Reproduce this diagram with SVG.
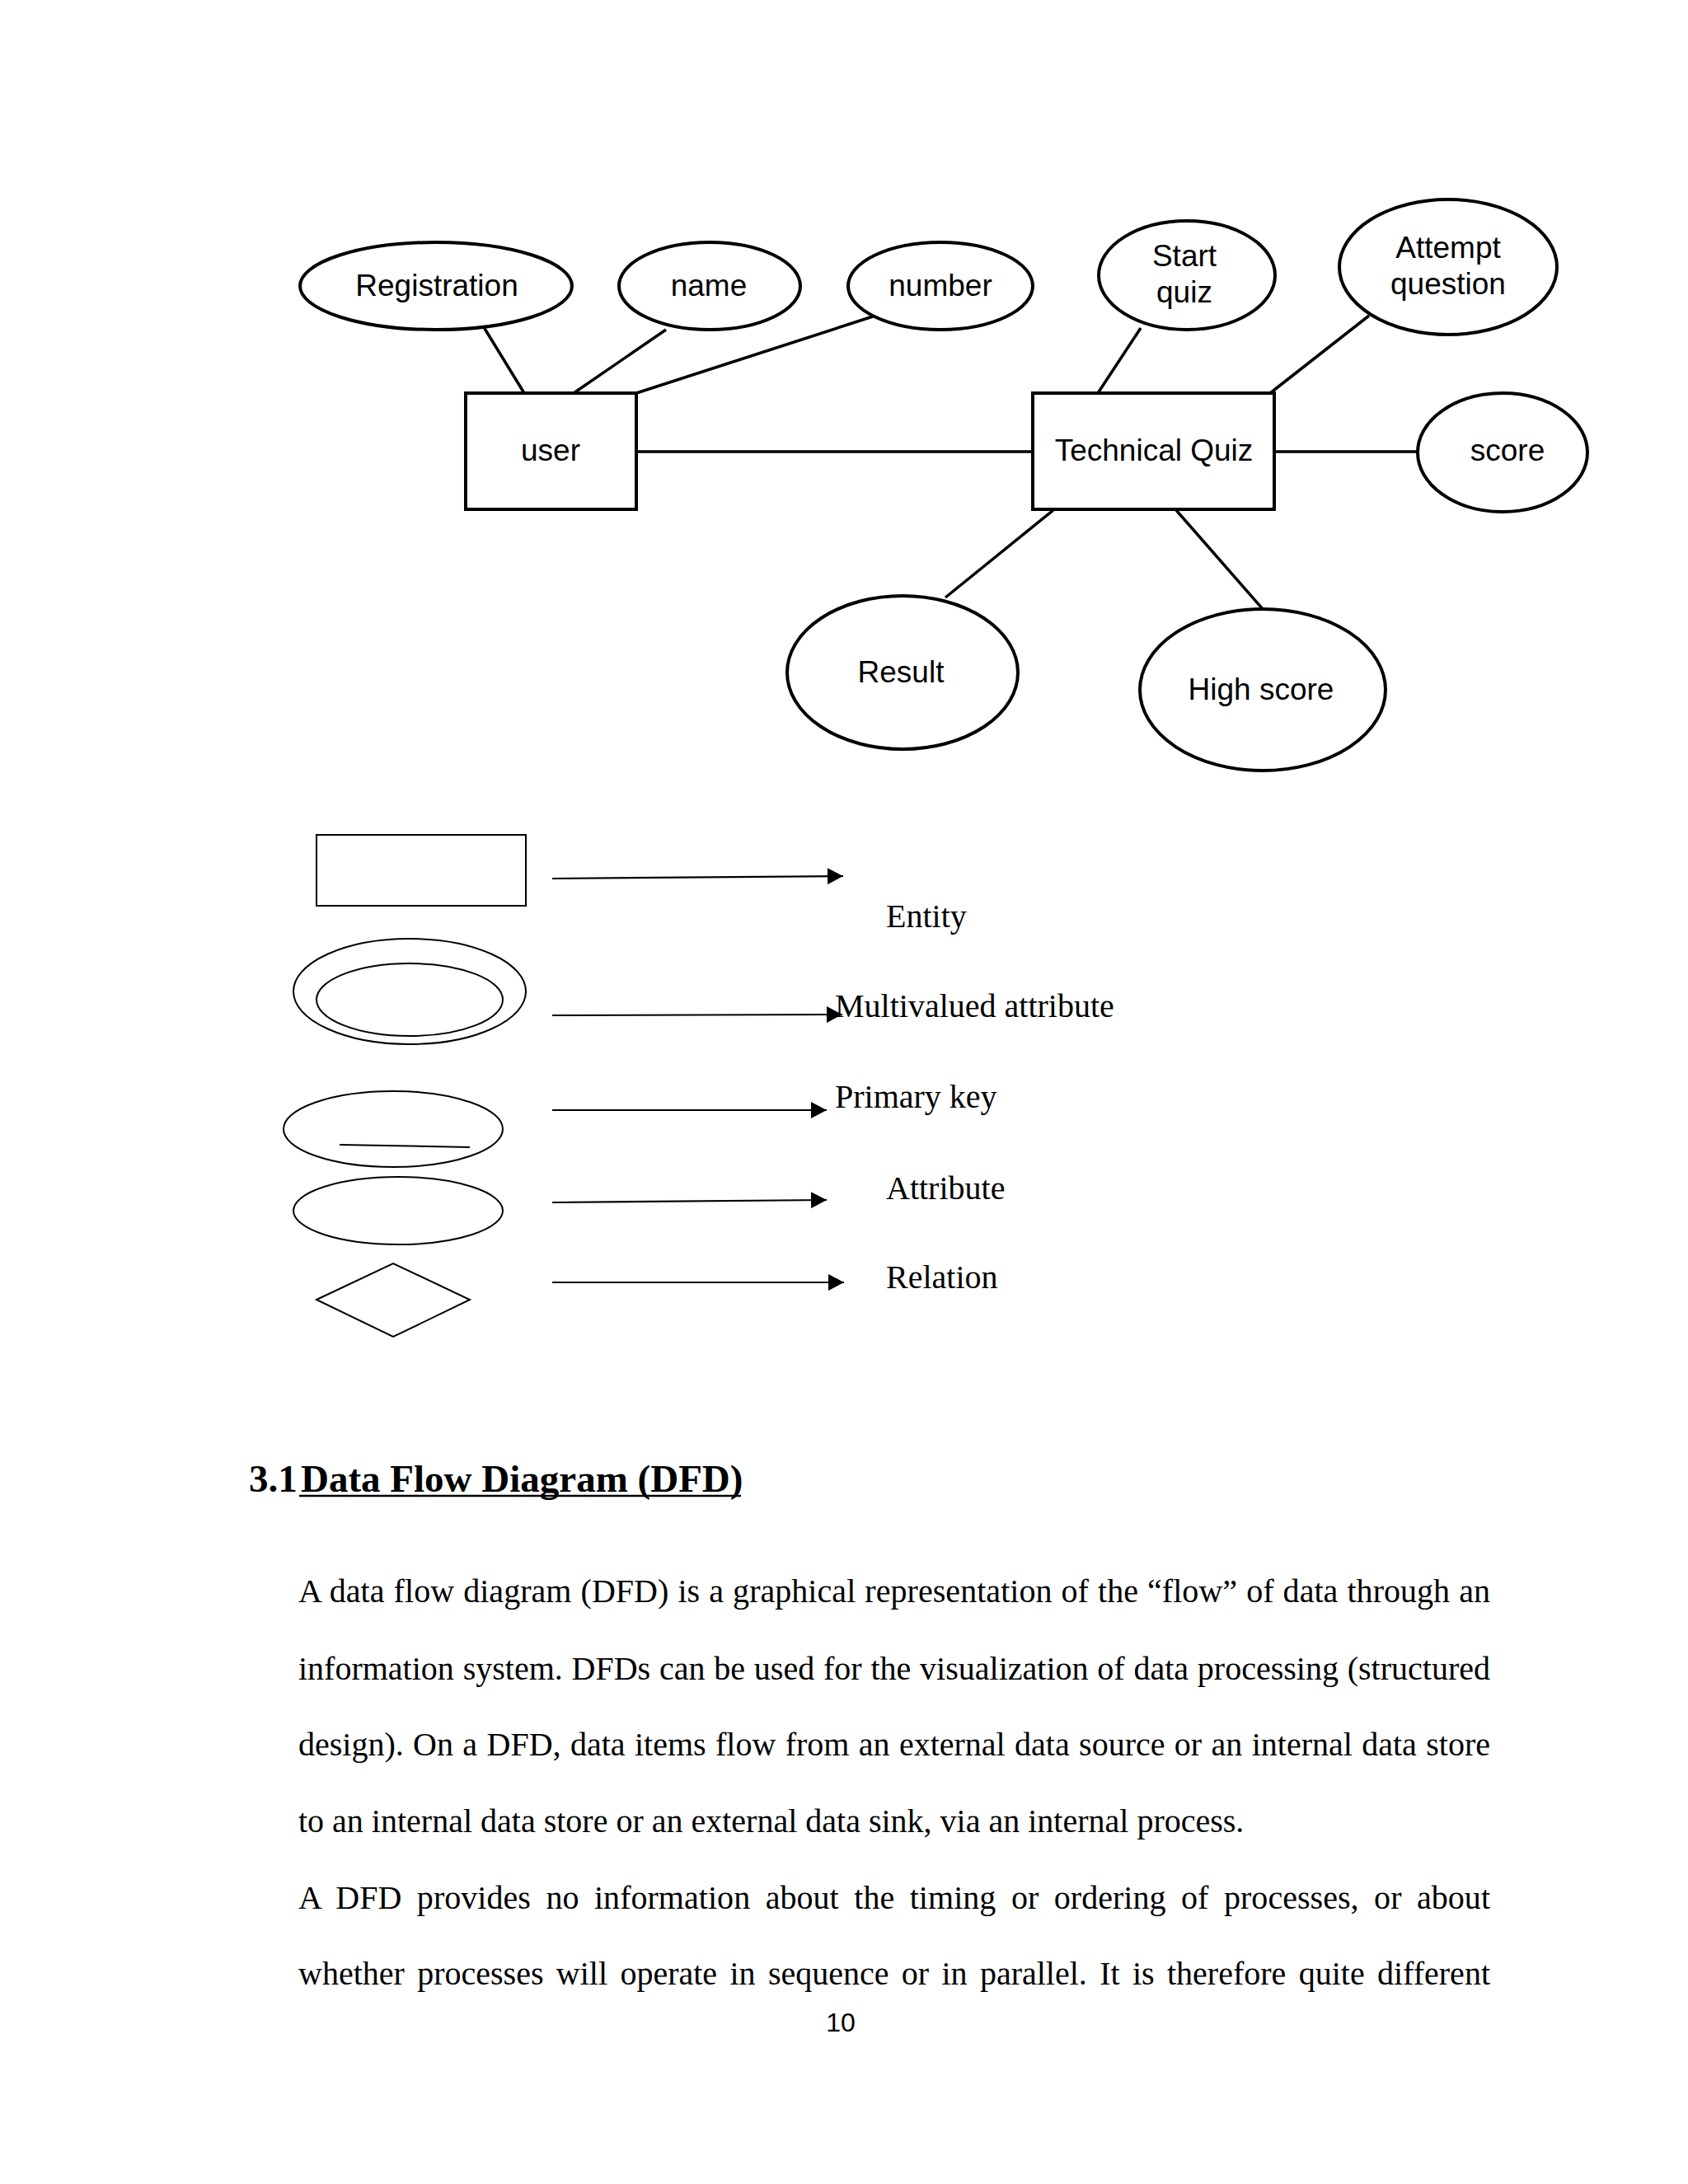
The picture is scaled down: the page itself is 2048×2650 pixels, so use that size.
<svg xmlns="http://www.w3.org/2000/svg" width="2048" height="2650" viewBox="0 0 2048 2650">
<style>
.er{fill:#fff;stroke:#000;stroke-width:4}
.erl{stroke:#000;stroke-width:3.5;fill:none}
.lg{fill:#fff;stroke:#000;stroke-width:2}
.arr{stroke:#000;stroke-width:2.2;fill:none;marker-end:url(#ah)}
.t{font-family:"Liberation Sans",Arial,sans-serif;font-size:37px;fill:#000;text-anchor:middle}
.s{font-family:"Liberation Serif","Times New Roman",serif;font-size:40px;fill:#000}
.h{font-family:"Liberation Serif","Times New Roman",serif;font-size:47px;font-weight:bold;fill:#000}
</style>
<defs>
<marker id="ah" markerUnits="userSpaceOnUse" markerWidth="20" markerHeight="20" viewBox="0 0 20 20" refX="19" refY="10" orient="auto">
<path d="M0,0 L19,10 L0,20 z" fill="#000"/>
</marker>
</defs>
<rect width="2048" height="2650" fill="#fff"/>
<g id="connectors">
<line class="erl" x1="587" y1="397" x2="636" y2="477"/>
<line class="erl" x1="808" y1="400" x2="696" y2="477"/>
<line class="erl" x1="1059" y1="384" x2="772" y2="477"/>
<line class="erl" x1="772" y1="548" x2="1253" y2="548"/>
<line class="erl" x1="1384" y1="398" x2="1332" y2="477"/>
<line class="erl" x1="1661" y1="383" x2="1541" y2="477"/>
<line class="erl" x1="1546" y1="548" x2="1719" y2="548"/>
<line class="erl" x1="1278" y1="619" x2="1147" y2="725"/>
<line class="erl" x1="1427" y1="619" x2="1532" y2="739"/>
</g>
<g id="registration"><ellipse class="er" cx="529" cy="347" rx="165" ry="53"/><text class="t" x="530" y="359">Registration</text></g>
<g id="name"><ellipse class="er" cx="861" cy="347" rx="110" ry="53"/><text class="t" x="860" y="359">name</text></g>
<g id="number"><ellipse class="er" cx="1141" cy="347" rx="112" ry="53"/><text class="t" x="1141" y="359">number</text></g>
<g id="user"><rect class="er" x="565" y="477" width="207" height="141"/><text class="t" x="668" y="559">user</text></g>
<g id="technical-quiz"><rect class="er" x="1253" y="477" width="293" height="141"/><text class="t" x="1400" y="559">Technical Quiz</text></g>
<g id="start-quiz"><ellipse class="er" cx="1440" cy="334" rx="107" ry="66"/><text class="t" x="1437" y="323">Start</text><text class="t" x="1437" y="367">quiz</text></g>
<g id="attempt-question"><ellipse class="er" cx="1757" cy="324" rx="132" ry="82"/><text class="t" x="1757" y="313">Attempt</text><text class="t" x="1757" y="357">question</text></g>
<g id="score"><ellipse class="er" cx="1823" cy="549" rx="103" ry="72"/><text class="t" x="1829" y="559">score</text></g>
<g id="result"><ellipse class="er" cx="1095" cy="816" rx="140" ry="93"/><text class="t" x="1093" y="828">Result</text></g>
<g id="high-score"><ellipse class="er" cx="1532" cy="837" rx="149" ry="98"/><text class="t" x="1530" y="849">High score</text></g>
<g id="legend-entity"><rect class="lg" x="384" y="1013" width="254" height="86"/></g>
<g id="legend-multivalued"><ellipse class="lg" cx="497" cy="1203" rx="141" ry="64"/><ellipse class="lg" cx="497" cy="1213" rx="113" ry="44"/></g>
<g id="legend-primary-key"><ellipse class="lg" cx="477" cy="1370" rx="133" ry="46"/><line x1="412" y1="1389" x2="570" y2="1392" stroke="#000" stroke-width="2"/></g>
<g id="legend-attribute"><ellipse class="lg" cx="483" cy="1469" rx="127" ry="41"/></g>
<g id="legend-relation"><polygon class="lg" points="384,1577 477,1533 570,1577 477,1622"/></g>
<g id="legend-arrows">
<line class="arr" x1="670" y1="1066" x2="1023" y2="1063"/>
<line class="arr" x1="670" y1="1232" x2="1022" y2="1231"/>
<line class="arr" x1="670" y1="1347" x2="1003" y2="1347"/>
<line class="arr" x1="670" y1="1459" x2="1003" y2="1456"/>
<line class="arr" x1="670" y1="1556" x2="1024" y2="1556"/>
</g>
<g id="legend-labels">
<text class="s" x="1075" y="1125">Entity</text>
<text class="s" x="1013" y="1234">Multivalued attribute</text>
<text class="s" x="1013" y="1344">Primary key</text>
<text class="s" x="1075" y="1455">Attribute</text>
<text class="s" x="1075" y="1563">Relation</text>
</g>
<g id="heading">
<text class="h" x="302" y="1810">3.1</text>
<text class="h" x="365" y="1810">Data Flow Diagram (DFD)</text>
<line x1="363" y1="1815" x2="899" y2="1815" stroke="#000" stroke-width="2.5"/>
</g>
<g id="body">
<text class="s" x="362" y="1944" textLength="1446" lengthAdjust="spacing" word-spacing="1">A data flow diagram (DFD) is a graphical representation of the “flow” of data through an</text>
<text class="s" x="362" y="2038" textLength="1446" lengthAdjust="spacing" word-spacing="0.8">information system. DFDs can be used for the visualization of data processing (structured</text>
<text class="s" x="362" y="2130" textLength="1446" lengthAdjust="spacing" word-spacing="1.4">design). On a DFD, data items flow from an external data source or an internal data store</text>
<text class="s" x="362" y="2223">to an internal data store or an external data sink, via an internal process.</text>
<text class="s" x="362" y="2316" textLength="1446" lengthAdjust="spacing" word-spacing="8.5">A DFD provides no information about the timing or ordering of processes, or about</text>
<text class="s" x="362" y="2408" textLength="1446" lengthAdjust="spacing" word-spacing="5.3">whether processes will operate in sequence or in parallel. It is therefore quite different</text>
</g>
<text x="1020" y="2465" font-family="Liberation Sans, Arial, sans-serif" font-size="32" text-anchor="middle" fill="#000">10</text>
</svg>
